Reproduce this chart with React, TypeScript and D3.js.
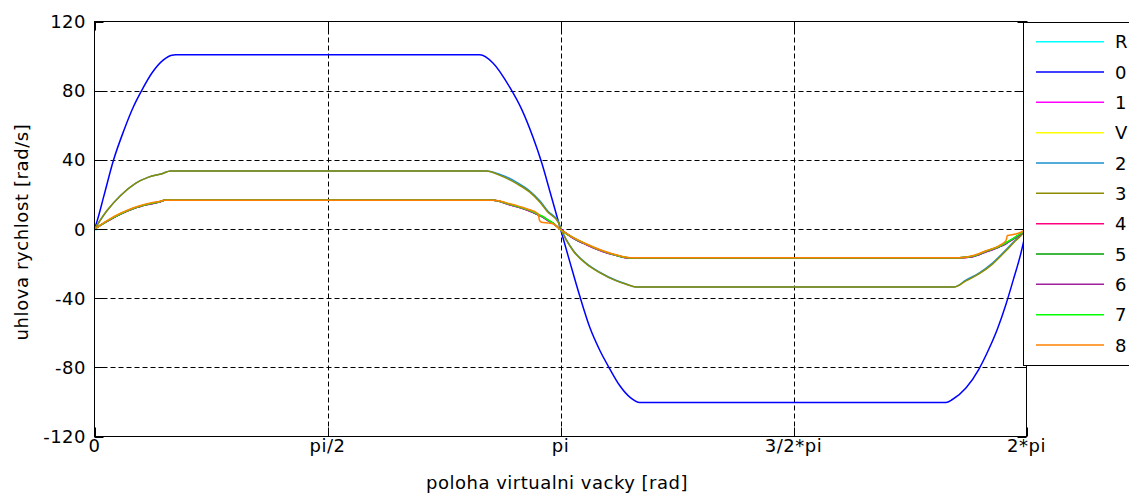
import React from "react";
import * as d3 from "d3";

// x positions are in units of pi (radians / pi)
const xBlue = [0, 0.006, 0.02, 0.041, 0.063, 0.084, 0.102, 0.124, 0.148, 0.166, 0.174, 0.827, 0.855, 0.891, 0.917, 0.941, 0.96, 0.977, 1.0, 1.02, 1.041, 1.063, 1.084, 1.106, 1.127, 1.15, 1.17, 1.827, 1.841, 1.87, 1.898, 1.92, 1.938, 1.956, 1.971, 1.988, 2.0];
const vBlue = [0, 5, 19, 40, 57, 71, 80.5, 90.5, 97.8, 100.5, 100.7, 100.7, 96, 82, 69, 53, 38, 22, 0, -19, -38.5, -57, -70, -81, -90.5, -97.5, -100.3, -100.3, -98.6, -92, -81, -69, -57.5, -43.5, -30, -14, 0];

const xMid = [0, 0.027, 0.056, 0.088, 0.116, 0.145, 0.163, 0.841, 0.87, 0.906, 0.934, 0.956, 0.973, 0.995, 1.002, 1.027, 1.056, 1.084, 1.12, 1.141, 1.162, 1.845, 1.87, 1.898, 1.927, 1.956, 1.977, 1.988, 2.0];
const vMid3 = [0, 10.7, 19.4, 26.4, 30, 32, 33.5, 33.5, 31, 26.2, 21.3, 15.5, 9.7, 3.9, -0.9, -12.6, -20.3, -25.2, -30, -31.9, -33.5, -33.5, -30, -26, -20.3, -12.6, -6.7, -3.9, 0];
const vMid2 = [0, 10.7, 19.4, 26.4, 30, 32, 33.5, 33.5, 31.6, 27, 22, 16.2, 10.3, 4.4, -0.5, -12.3, -20.0, -25.0, -29.8, -31.8, -33.5, -33.5, -29.6, -25.5, -19.7, -12.0, -6.2, -3.5, 0];

const xLow = [0, 0.027, 0.056, 0.084, 0.113, 0.141, 0.15, 0.856, 0.891, 0.927, 0.952, 0.955, 0.959, 0.975, 0.984, 0.998, 1.027, 1.056, 1.091, 1.127, 1.141, 1.15, 1.856, 1.884, 1.913, 1.941, 1.956, 1.959, 1.977, 1.988, 2.0];
const vLow8 = [0, 4.9, 9.1, 12.3, 14.6, 16.1, 16.6, 16.6, 14.6, 11.7, 8.8, 5.0, 3.9, 3.4, 3.0, 0, -4.8, -8.7, -12.6, -15.5, -16.4, -16.6, -16.6, -15.5, -12.6, -9.7, -6.7, -3.8, -2.9, -1.9, 0];
const vLowA = [0, 4.4, 8.6, 11.8, 14.1, 15.8, 16.6, 16.6, 14.0, 11.1, 8.2, 7.8, 7.3, 4.6, 3.2, 0.3, -5.2, -9.1, -13.0, -15.8, -16.6, -16.6, -16.6, -16.0, -13.2, -10.4, -8.4, -7.9, -4.8, -2.8, 0];
const vLowB = [0, 4.6, 8.8, 12.0, 14.3, 15.9, 16.6, 16.6, 14.3, 11.4, 8.5, 8.0, 7.6, 4.9, 3.4, 0.1, -5.0, -8.9, -12.8, -15.7, -16.5, -16.6, -16.6, -15.8, -12.9, -10.1, -8.0, -7.5, -4.5, -2.6, 0];

const xR = [0, 0.005];
const vR = [-0.4, -0.4];

const seriesNames = ["R", "0", "1", "V", "2", "3", "4", "5", "6", "7", "8"];
const seriesColors = ["#00ffff", "#0000ff", "#ff00ff", "#ffff00", "#1a8fd0", "#8c8c00", "#ff0080", "#00a000", "#a020a0", "#00ff00", "#ff8000"];
const seriesX = [xR, xBlue, xLow, xLow, xMid, xMid, xLow, xLow, xLow, xLow, xLow];
const seriesV = [vR, vBlue, vLowA, vLowB, vMid2, vMid3, vLowA, vLowB, vLowA, vLowB, vLow8];

const xTickValues = [0, 0.5, 1, 1.5, 2];
const xTickLabels = ["0", "pi/2", "pi", "3/2*pi", "2*pi"];
const yTickValues = [-120, -80, -40, 0, 40, 80, 120];
const yTickLabels = ["-120", "-80", "-40", "0", "40", "80", "120"];

const W = 1129;
const H = 497;
const L = 94.5, R = 1026.5, T = 21.5, B = 436.5;
const FONT = "'DejaVu Sans', sans-serif";

export default function App() {
  const x = d3.scaleLinear().domain([0, 2 * Math.PI]).range([L, R]);
  const y = d3.scaleLinear().domain([-120, 120]).range([B, T]);
  const line = d3
    .line<[number, number]>()
    .x((d) => x(d[0] * Math.PI))
    .y((d) => y(d[1]))
    .curve(d3.curveMonotoneX);
  const tick = 9;

  const legX = 1023.5, legY = 22.5, legW = 130, legH = 343;
  const entryY0 = 41.7, entryDy = 30.33;

  return (
    <svg
      width={W}
      height={H}
      style={{ position: "fixed", left: 0, top: 0, background: "#fff" }}
      fontFamily={FONT}
    >
      <rect x={0} y={0} width={W} height={H} fill="#fff" />
      {/* grid */}
      {xTickValues.slice(1, -1).map((v) => (
        <line key={"gx" + v} x1={Math.round(x(v * Math.PI)) + 0.5} x2={Math.round(x(v * Math.PI)) + 0.5} y1={T} y2={B} stroke="#000" strokeDasharray="5,3" />
      ))}
      {yTickValues.slice(1, -1).map((v) => (
        <line key={"gy" + v} y1={Math.round(y(v)) + 0.5} y2={Math.round(y(v)) + 0.5} x1={L} x2={R} stroke="#000" strokeDasharray="5,3" />
      ))}
      {/* data */}
      {seriesNames.map((n, i) => {
        const pts: [number, number][] = seriesX[i].map((xv, j) => [xv, seriesV[i][j]]);
        return <path key={"s" + n} d={line(pts) || ""} fill="none" stroke={seriesColors[i]} strokeWidth={1.5} />;
      })}
      {/* box */}
      <rect x={L} y={T} width={R - L} height={B - T} fill="none" stroke="#000" />
      {/* ticks */}
      {xTickValues.map((v) => {
        const px = Math.round(x(v * Math.PI)) + 0.5;
        return (
          <g key={"xt" + v}>
            <line x1={px} x2={px} y1={B} y2={B - tick} stroke="#000" />
            <line x1={px} x2={px} y1={T} y2={T + tick} stroke="#000" />
          </g>
        );
      })}
      {yTickValues.map((v) => {
        const py = Math.round(y(v)) + 0.5;
        return (
          <g key={"yt" + v}>
            <line x1={L} x2={L + tick} y1={py} y2={py} stroke="#000" />
            <line x1={R} x2={R - tick} y1={py} y2={py} stroke="#000" />
          </g>
        );
      })}
      {/* tick labels */}
      {xTickValues.map((v, i) => (
        <text key={"xl" + v} x={x(v * Math.PI)} y={452} textAnchor="middle" fontSize={18} letterSpacing={0.5} fill="#000">
          {xTickLabels[i]}
        </text>
      ))}
      {yTickValues.map((v, i) => (
        <text key={"yl" + v} x={86} y={y(v) + 6.5} textAnchor="end" fontSize={18} letterSpacing={0.5} fill="#000">
          {yTickLabels[i]}
        </text>
      ))}
      {/* axis labels */}
      <text x={557} y={489} textAnchor="middle" fontSize={18} letterSpacing={0.5} fill="#000">
        poloha virtualni vacky [rad]
      </text>
      <text transform="translate(28,232) rotate(-90)" textAnchor="middle" fontSize={18} letterSpacing={0.6} fill="#000">
        uhlova rychlost [rad/s]
      </text>
      {/* legend */}
      <rect x={legX} y={legY} width={legW} height={legH} fill="#fff" stroke="#000" />
      {seriesNames.map((n, i) => {
        const ey = entryY0 + i * entryDy;
        return (
          <g key={"lg" + n}>
            <line x1={1036} x2={1104} y1={ey} y2={ey} stroke={seriesColors[i]} strokeWidth={1.5} />
            <text x={1115} y={ey + 6.5} fontSize={18} fill="#000">
              {n}
            </text>
          </g>
        );
      })}
    </svg>
  );
}
